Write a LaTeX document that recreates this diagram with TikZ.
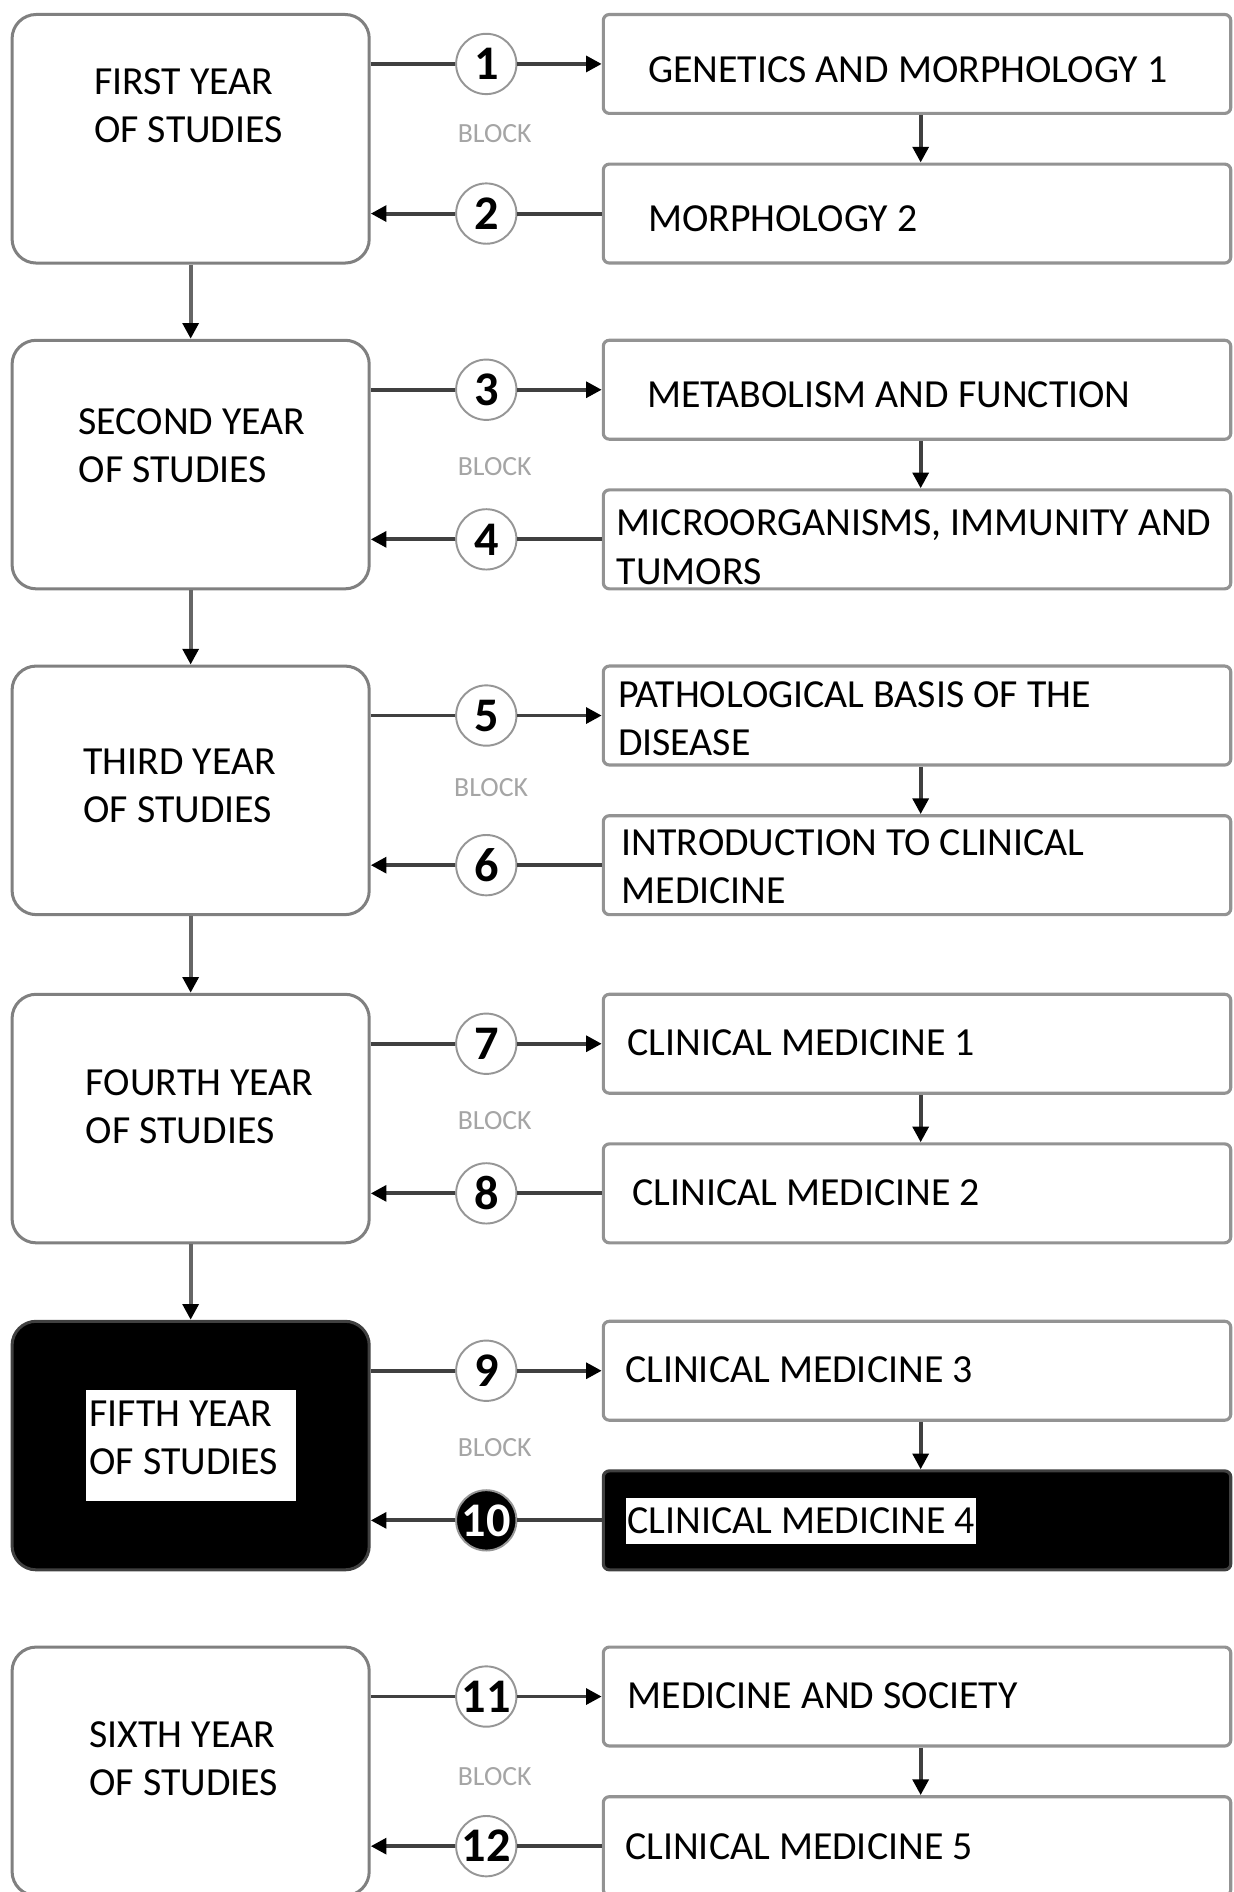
\documentclass[tikz,border=0pt]{standalone}
\usepackage{fontspec}
\setmainfont{Carlito}
\usetikzlibrary{arrows.meta}

\definecolor{boxgray}{RGB}{128,128,128}
\definecolor{linkgray}{RGB}{64,64,64}
\definecolor{circgray}{RGB}{150,150,150}
\definecolor{blockgray}{RGB}{165,165,165}

\begin{document}
\begin{tikzpicture}[x=1pt,y=-1pt,
    yearbox/.style={draw=boxgray, line width=2.5pt, rounded corners=20pt, fill=white,
      minimum width=296pt, minimum height=206pt, inner sep=0pt},
    blockbox/.style={draw=boxgray!85, line width=2.6pt, rounded corners=5pt, fill=white,
      minimum width=520pt, minimum height=82pt, inner sep=0pt},
    numc/.style={circle, draw=circgray, line width=1.6pt, fill=white, minimum size=50pt,
      inner sep=0pt, font=\fontsize{40}{40}\selectfont\bfseries},
    lbl/.style={anchor=base west, align=left, inner sep=0pt, font=\fontsize{33}{40}\selectfont},
    blk/.style={text=blockgray, inner sep=0pt, font=\fontsize{23}{23}\selectfont},
    conn/.style={draw=linkgray, line width=3.2pt},
    down/.style={draw=boxgray!80!black, line width=3.2pt},
    arr/.style={-{Triangle[length=13pt,width=13pt,color=black]}}]

    \useasboundingbox (0,0) rectangle (1022,1568);
    \clip (0,0) rectangle (1022,1568);

    %First year
    \node[yearbox] (y1) at (158,115) {};
    \node[lbl] (yt1) at (78,118) {FIRST YEAR\\OF STUDIES};
    \node[blockbox] (b1) at (760,53) {};
    \node[lbl] (bt1) at (537,68) {GENETICS AND MORPHOLOGY 1};
    \node[blockbox] (b2) at (760,177) {};
    \node[lbl] (bt2) at (537,192) {MORPHOLOGY 2};
    \node[numc] (n1) at (403,53) {1};
    \node[numc] (n2) at (403,177) {2};
    \node[blk] (k1) at (410,111) {BLOCK};
    \draw[conn] (n1 -| y1.east) -- (n1);
    \draw[conn,arr] (n1) -- (n1 -| b1.west);
    \draw[conn] (n2 -| b2.west) -- (n2);
    \draw[conn,arr] (n2) -- (n2 -| y1.east);
    \draw[conn,arr] ([xshift=3pt]b1.south) -- ([xshift=3pt]b2.north);

    %Second year
    \node[yearbox] (y2) at (158,385) {};
    \node[lbl] (yt2) at (65,400) {SECOND YEAR\\OF STUDIES};
    \node[blockbox] (b3) at (760,323) {};
    \node[lbl] (bt3) at (536,338) {METABOLISM AND FUNCTION};
    \node[blockbox] (b4) at (760,447) {};
    \node[lbl] (bt4) at (511,484) {MICROORGANISMS, IMMUNITY AND\\TUMORS};
    \node[numc] (n3) at (403,323) {3};
    \node[numc] (n4) at (403,447) {4};
    \node[blk] (k2) at (410,387) {BLOCK};
    \draw[conn] (n3 -| y2.east) -- (n3);
    \draw[conn,arr] (n3) -- (n3 -| b3.west);
    \draw[conn] (n4 -| b4.west) -- (n4);
    \draw[conn,arr] (n4) -- (n4 -| y2.east);
    \draw[conn,arr] ([xshift=3pt]b3.south) -- ([xshift=3pt]b4.north);

    %Third year
    \node[yearbox] (y3) at (158,655) {};
    \node[lbl] (yt3) at (69,682) {THIRD YEAR\\OF STUDIES};
    \node[blockbox] (b5) at (760,593) {};
    \node[lbl] (bt5) at (512,626) {PATHOLOGICAL BASIS OF THE\\DISEASE};
    \node[blockbox] (b6) at (760,717) {};
    \node[lbl] (bt6) at (515,749) {INTRODUCTION TO CLINICAL\\MEDICINE};
    \node[numc] (n5) at (403,593) {5};
    \node[numc] (n6) at (403,717) {6};
    \node[blk] (k3) at (407,653) {BLOCK};
    \draw[conn] (n5 -| y3.east) -- (n5);
    \draw[conn,arr] (n5) -- (n5 -| b5.west);
    \draw[conn] (n6 -| b6.west) -- (n6);
    \draw[conn,arr] (n6) -- (n6 -| y3.east);
    \draw[conn,arr] ([xshift=3pt]b5.south) -- ([xshift=3pt]b6.north);

    %Fourth year
    \node[yearbox] (y4) at (158,927) {};
    \node[lbl] (yt4) at (71,948) {FOURTH YEAR\\OF STUDIES};
    \node[blockbox] (b7) at (760,865) {};
    \node[lbl] (bt7) at (520,875) {CLINICAL MEDICINE 1};
    \node[blockbox] (b8) at (760,989) {};
    \node[lbl] (bt8) at (524,999) {CLINICAL MEDICINE 2};
    \node[numc] (n7) at (403,865) {7};
    \node[numc] (n8) at (403,989) {8};
    \node[blk] (k4) at (410,929) {BLOCK};
    \draw[conn] (n7 -| y4.east) -- (n7);
    \draw[conn,arr] (n7) -- (n7 -| b7.west);
    \draw[conn] (n8 -| b8.west) -- (n8);
    \draw[conn,arr] (n8) -- (n8 -| y4.east);
    \draw[conn,arr] ([xshift=3pt]b7.south) -- ([xshift=3pt]b8.north);

    %Fifth year
    \node[yearbox,fill=black,draw=linkgray] (y5) at (158,1198) {};
    \node[fill=white, minimum width=174pt, minimum height=92pt, inner sep=0pt] (hl5) at (158,1198) {};
    \node[lbl] (yt5) at (74,1222) {FIFTH YEAR\\OF STUDIES};
    \node[blockbox] (b9) at (760,1136) {};
    \node[lbl] (bt9) at (518,1146) {CLINICAL MEDICINE 3};
    \node[blockbox,fill=black,draw=linkgray] (b10) at (760,1260) {};
    \node[lbl,fill=white,inner xsep=1pt,inner ysep=8pt] (bt10) at (519,1271) {CLINICAL MEDICINE 4};
    \node[numc] (n9) at (403,1136) {9};
    \node[numc,fill=black,text=white] (n10) at (403,1260) {10};
    \node[blk] (k5) at (410,1200) {BLOCK};
    \draw[conn] (n9 -| y5.east) -- (n9);
    \draw[conn,arr] (n9) -- (n9 -| b9.west);
    \draw[conn] (n10 -| b10.west) -- (n10);
    \draw[conn,arr] (n10) -- (n10 -| y5.east);
    \draw[conn,arr] ([xshift=3pt]b9.south) -- ([xshift=3pt]b10.north);

    %Sixth year
    \node[yearbox] (y6) at (158,1468) {};
    \node[lbl] (yt6) at (74,1488) {SIXTH YEAR\\OF STUDIES};
    \node[blockbox] (b11) at (760,1406) {};
    \node[lbl] (bt11) at (520,1416) {MEDICINE AND SOCIETY};
    \node[blockbox] (b12) at (760,1530) {};
    \node[lbl] (bt12) at (518,1541) {CLINICAL MEDICINE 5};
    \node[numc] (n11) at (403,1406) {11};
    \node[numc] (n12) at (403,1530) {12};
    \node[blk] (k6) at (410,1472) {BLOCK};
    \draw[conn] (n11 -| y6.east) -- (n11);
    \draw[conn,arr] (n11) -- (n11 -| b11.west);
    \draw[conn] (n12 -| b12.west) -- (n12);
    \draw[conn,arr] (n12) -- (n12 -| y6.east);
    \draw[conn,arr] ([xshift=3pt]b11.south) -- ([xshift=3pt]b12.north);

    %Years
    \draw[down,arr] (y1) -- (y2);
    \draw[down,arr] (y2) -- (y3);
    \draw[down,arr] (y3) -- (y4);
    \draw[down,arr] (y4) -- (y5);

\end{tikzpicture}
\end{document}
